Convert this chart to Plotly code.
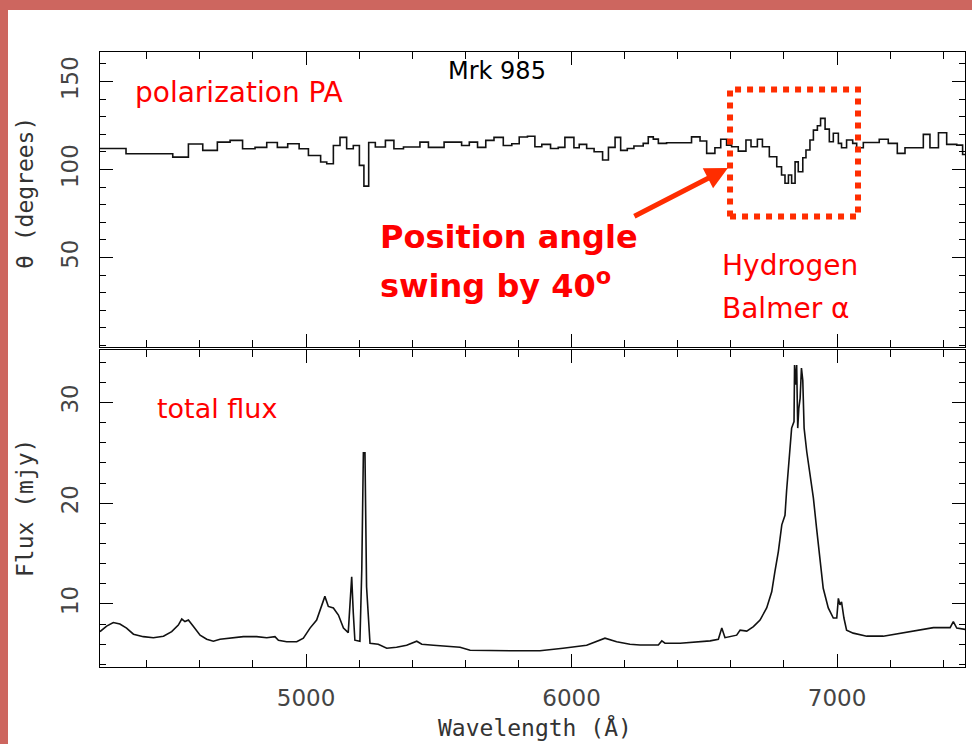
import plotly.graph_objects as go

# Polarization position angle of Mrk 985: binned values (left bin edge in Angstrom, PA in degrees)
pa_edges = [4224, 4322, 4498, 4557, 4611, 4666, 4714, 4761, 4808, 4852, 4892, 4931, 4974,
            5009, 5055, 5078, 5103, 5128, 5153, 5178, 5201, 5218, 5236, 5261, 5299, 5331,
            5367, 5429, 5461, 5520, 5586, 5615, 5646, 5677, 5708, 5743, 5775, 5803, 5834,
            5862, 5888, 5921, 5950, 5975, 6009, 6029, 6057, 6085, 6117, 6139, 6164, 6185,
            6210, 6235, 6270, 6289, 6308, 6327, 6358, 6452, 6484, 6509, 6540, 6562, 6584,
            6603, 6628, 6657, 6676, 6700, 6719, 6745, 6773, 6791, 6804, 6817, 6829, 6842,
            6854, 6871, 6883, 6898, 6911, 6926, 6938, 6955, 6971, 6986, 7005, 7017, 7036,
            7059, 7074, 7099, 7159, 7193, 7227, 7256, 7325, 7350, 7382, 7413, 7451, 7473]
pa_end = 7490
pa_deg = [112.0, 109.0, 107.1, 114.5, 110.9, 115.6, 116.6, 111.8, 112.6, 115.4, 112.6, 114.7, 111.8,
          108.0, 104.3, 103.3, 113.7, 118.3, 111.8, 113.7, 102.4, 90.6, 115.4, 112.8, 116.6, 111.8,
          112.8, 115.6, 112.6, 115.6, 113.7, 115.6, 112.6, 116.6, 118.3, 113.7, 114.7, 118.5, 118.9,
          113.0, 114.3, 112.0, 112.6, 118.3, 112.4, 114.3, 112.0, 110.1, 105.4, 112.6, 118.3, 110.9,
          112.0, 113.4, 114.9, 118.6, 117.3, 114.9, 115.2, 118.6, 116.2, 109.2, 112.4, 117.2, 113.9,
          113.0, 110.5, 116.8, 113.0, 117.2, 113.0, 107.3, 101.6, 96.9, 92.2, 96.9, 92.2, 104.4,
          98.8, 106.7, 111.1, 116.8, 122.4, 124.9, 129.1, 123.0, 115.8, 120.6, 114.9, 112.4, 116.8,
          114.9, 112.4, 115.4, 117.2, 114.9, 109.2, 112.4, 120.0, 112.4, 120.9, 114.3, 113.9, 108.6]

# Total flux spectrum (Angstrom, mJy)
flux_wave = [4224, 4249, 4274, 4299, 4324, 4350, 4387, 4425, 4463, 4494, 4519, 4532, 4544, 4557,
             4576, 4601, 4626, 4651, 4676, 4726, 4764, 4814, 4852, 4883, 4896, 4927, 4965, 4990,
             5015, 5040, 5059, 5071, 5084, 5103, 5122, 5141, 5159, 5166, 5172, 5178, 5184, 5203,
             5210, 5216, 5222, 5228, 5235, 5241, 5272, 5304, 5341, 5379, 5417, 5436, 5480, 5542,
             5580, 5618, 5693, 5793, 5881, 5906, 5968, 6057, 6126, 6170, 6220, 6258, 6327, 6340,
             6352, 6409, 6465, 6522, 6553, 6566, 6578, 6622, 6635, 6660, 6685, 6710, 6735, 6754,
             6766, 6779, 6792, 6804, 6810, 6820, 6829, 6838, 6840, 6845, 6848, 6852, 6856, 6861,
             6866, 6871, 6876, 6886, 6898, 6911, 6923, 6936, 6948, 6967, 6986, 6999, 7005, 7011,
             7017, 7026, 7036, 7061, 7112, 7174, 7237, 7300, 7363, 7426, 7438, 7451, 7501]
flux_mjy = [7.25, 7.8, 8.15, 8.0, 7.6, 7.0, 6.75, 6.65, 6.8, 7.25, 7.9, 8.5, 8.25, 8.4,
            7.75, 6.9, 6.5, 6.3, 6.5, 6.65, 6.75, 6.75, 6.65, 6.75, 6.4, 6.25, 6.25, 6.6,
            7.6, 8.4, 9.75, 10.75, 9.75, 9.6, 8.9, 7.6, 7.15, 10.9, 12.7, 9.1, 6.4, 6.3,
            13.4, 25.0, 25.0, 11.7, 8.75, 6.1, 6.0, 5.6, 5.7, 5.9, 6.3, 6.0, 5.9, 5.75,
            5.7, 5.4, 5.35, 5.35, 5.35, 5.4, 5.6, 5.9, 6.6, 6.25, 6.0, 5.93, 5.93, 6.33,
            6.1, 6.1, 6.2, 6.33, 6.5, 7.6, 6.65, 6.9, 7.4, 7.3, 7.75, 8.4, 9.6, 11.2,
            13.2, 15.2, 17.85, 18.8, 21.2, 24.1, 27.45, 28.1, 33.7, 31.75, 33.7, 27.45, 29.4, 30.4,
            33.4, 32.2, 27.45, 25.1, 22.8, 20.5, 17.5, 14.2, 11.55, 9.6, 8.6, 8.6, 10.55, 9.9,
            10.2, 8.6, 7.4, 7.1, 6.8, 6.8, 7.1, 7.4, 7.65, 7.65, 8.25, 7.6, 7.4]

# Tick labels shown on each axis
pa_ticks = [50, 100, 150]
flux_ticks = [10, 20, 30]
wave_ticks = [5000, 6000, 7000]

# Highlighted H-alpha region (Angstrom, degrees) and arrow pointing at it
box_wave = [6597, 7079]
box_deg = [73.3, 145.5]
arrow_tail = (6231, 73.0)
arrow_tip = (6589, 100.9)

W, H = 972, 744
RED = "#FF0000"
ORANGE_RED = "#FF2D00"
BORDER = "#CD665F"
TICK_FONT = dict(family="DejaVu Sans", size=23, color="#444444")
TITLE_FONT = dict(family="DejaVu Sans Mono", size=23, color="#333333")
XRANGE = [4224, 7482]


def px(x):
    return x / W


def py(y):
    return 1 - y / H


fig = go.Figure()

fig.add_trace(go.Scatter(
    x=pa_edges + [pa_end], y=pa_deg + [pa_deg[-1]],
    mode="lines", line=dict(color="#111111", width=1.6, shape="hv"),
    xaxis="x", yaxis="y", showlegend=False, hoverinfo="skip"))

fig.add_trace(go.Scatter(
    x=flux_wave, y=flux_mjy,
    mode="lines", line=dict(color="#111111", width=1.6),
    xaxis="x2", yaxis="y2", showlegend=False, hoverinfo="skip"))

common_x = dict(
    range=XRANGE, showgrid=False, zeroline=False, showline=True, linecolor="black",
    linewidth=1.4, mirror="ticks", ticks="inside", ticklen=13, tickwidth=1.3,
    tickcolor="black", tickmode="array", tickvals=wave_ticks,
    minor=dict(ticks="inside", dtick=200, tick0=0, ticklen=7, tickwidth=1.3,
               tickcolor="black", showgrid=False),
)
common_y = dict(
    showgrid=False, zeroline=False, showline=True, linecolor="black", linewidth=1.4,
    mirror="ticks", ticks="inside", ticklen=13, tickwidth=1.3, tickcolor="black",
    tickangle=-90, tickfont=TICK_FONT, ticklabelstandoff=12, tickmode="array",
)

fig.update_layout(
    width=W, height=H,
    margin=dict(l=0, r=0, t=0, b=0),
    paper_bgcolor="white", plot_bgcolor="white",
    xaxis=dict(domain=[px(100), px(965)], anchor="y", showticklabels=False, **common_x),
    yaxis=dict(domain=[py(347), py(52)], anchor="x", range=[-0.8, 166.8],
               tickvals=pa_ticks,
               minor=dict(ticks="inside", dtick=10, tick0=0, ticklen=6, tickwidth=1.3,
                          tickcolor="black", showgrid=False),
               **common_y),
    xaxis2=dict(domain=[px(100), px(965)], anchor="y2", showticklabels=True,
                tickfont=TICK_FONT, ticklabelstandoff=10, **common_x),
    yaxis2=dict(domain=[py(667), py(350)], anchor="x2", range=[3.74, 35.2],
                tickvals=flux_ticks,
                minor=dict(ticks="inside", dtick=2, tick0=0, ticklen=6, tickwidth=1.3,
                           tickcolor="black", showgrid=False),
                **common_y),
)

# Slide frame: red strips along the top and left edges
fig.add_shape(type="rect", xref="paper", yref="paper", x0=0, x1=1, y0=py(10), y1=1,
              fillcolor=BORDER, line=dict(width=0), layer="above")
fig.add_shape(type="rect", xref="paper", yref="paper", x0=0, x1=px(8), y0=0, y1=1,
              fillcolor=BORDER, line=dict(width=0), layer="above")

# Dotted box around the H-alpha feature
fig.add_shape(type="rect", xref="x", yref="y",
              x0=box_wave[0], x1=box_wave[1], y0=box_deg[0], y1=box_deg[1],
              line=dict(color=ORANGE_RED, width=6, dash="6px,6px"), fillcolor="rgba(0,0,0,0)")

annotations = [
    dict(text="θ (degrees)", x=px(25), y=py(193), textangle=-90, font=TITLE_FONT,
         xanchor="center", yanchor="middle"),
    dict(text="Flux (mjy)", x=px(25), y=py(508), textangle=-90, font=TITLE_FONT,
         xanchor="center", yanchor="middle"),
    dict(text="Wavelength (Å)", x=px(535), y=py(727), font=TITLE_FONT,
         xanchor="center", yanchor="middle"),
    dict(text="Mrk 985", x=px(497), y=py(71),
         font=dict(family="DejaVu Sans", size=24, color="black"),
         xanchor="center", yanchor="middle"),
    dict(text="polarization PA", x=px(239), y=py(92),
         font=dict(family="DejaVu Sans", size=28, color=RED),
         xanchor="center", yanchor="middle"),
    dict(text="<b>Position angle</b>", x=px(378), y=py(237),
         font=dict(family="DejaVu Sans", size=32, color=RED),
         xanchor="left", yanchor="middle"),
    dict(text="<b>swing by 40<sup>o</sup></b>", x=px(378), y=py(284),
         font=dict(family="DejaVu Sans", size=32, color=RED),
         xanchor="left", yanchor="middle"),
    dict(text="Hydrogen", x=px(720), y=py(265),
         font=dict(family="DejaVu Sans", size=28, color=RED),
         xanchor="left", yanchor="middle"),
    dict(text="Balmer α", x=px(720), y=py(308),
         font=dict(family="DejaVu Sans", size=28, color=RED),
         xanchor="left", yanchor="middle"),
    dict(text="total flux", x=px(155), y=py(409),
         font=dict(family="DejaVu Sans", size=27, color=RED),
         xanchor="left", yanchor="middle"),
]
for a in annotations:
    fig.add_annotation(xref="paper", yref="paper", showarrow=False, **a)

fig.add_annotation(
    xref="x", yref="y", axref="x", ayref="y",
    x=arrow_tip[0], y=arrow_tip[1], ax=arrow_tail[0], ay=arrow_tail[1],
    text="", showarrow=True, arrowhead=2, arrowsize=0.9, arrowwidth=5,
    arrowcolor=ORANGE_RED)

fig.write_html("out.html")
